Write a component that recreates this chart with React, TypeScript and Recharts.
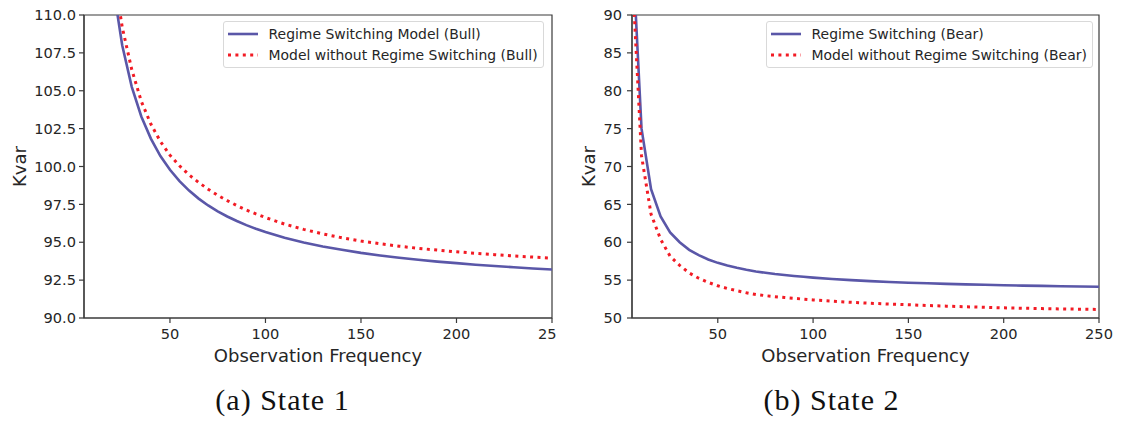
import { LineChart, Line, XAxis, YAxis, Legend, ReferenceArea } from "recharts";

// observation frequency grids (x)
const freqBull = [20, 25, 30, 35, 40, 45, 50, 55, 60, 65, 70, 75, 80, 85, 90, 95, 100,
  110, 120, 130, 140, 150, 160, 170, 180, 190, 200, 210, 220, 230, 240, 250];
const freqBear = [5, 10, 15, 20, 25, 30, 35, 40, 45, 50, 55, 60, 65, 70, 75, 80, 85, 90, 95, 100,
  110, 120, 130, 140, 150, 160, 170, 180, 190, 200, 210, 220, 230, 240, 250];

// state 1 (bull)
const kvarBullRS = [112.1, 108.0, 105.26, 103.3, 101.84, 100.69, 99.78, 99.03, 98.41, 97.88, 97.43, 97.04,
  96.7, 96.4, 96.13, 95.89, 95.67, 95.3, 94.99, 94.72, 94.5, 94.3, 94.13, 93.98, 93.84, 93.72, 93.62,
  93.52, 93.43, 93.35, 93.27, 93.2];
const kvarBullNoRS = [113.3, 109.2, 106.4, 104.3, 102.8, 101.65, 100.75, 100.05, 99.45, 98.95, 98.5, 98.1,
  97.75, 97.42, 97.13, 96.87, 96.63, 96.2, 95.85, 95.55, 95.3, 95.08, 94.9, 94.74, 94.6, 94.48, 94.37,
  94.27, 94.18, 94.09, 94.02, 93.95];

// state 2 (bear)
const kvarBearRS = [100, 75, 67, 63.4, 61.3, 60.0, 59.0, 58.3, 57.72, 57.28, 56.92, 56.62, 56.37, 56.15,
  55.97, 55.8, 55.68, 55.55, 55.44, 55.33, 55.15, 55.0, 54.87, 54.76, 54.66, 54.58, 54.51, 54.44, 54.38,
  54.33, 54.28, 54.24, 54.2, 54.16, 54.13];
const kvarBearNoRS = [96, 71.4, 63.7, 60.4, 58.15, 56.95, 55.95, 55.25, 54.7, 54.25, 53.9, 53.6, 53.33, 53.1,
  52.95, 52.82, 52.7, 52.6, 52.48, 52.38, 52.22, 52.07, 51.95, 51.84, 51.75, 51.65, 51.56, 51.48, 51.41,
  51.34, 51.29, 51.24, 51.2, 51.16, 51.13];

const xTicks = [50, 100, 150, 200, 250];
const bullTicks = [90, 92.5, 95, 97.5, 100, 102.5, 105, 107.5, 110];
const bearTicks = [50, 55, 60, 65, 70, 75, 80, 85, 90];

const bullNames = ["Regime Switching Model (Bull)", "Model without Regime Switching (Bull)"];
const bearNames = ["Regime Switching (Bear)", "Model without Regime Switching (Bear)"];

const bullData = freqBull.map((x, i) => ({ x, rs: kvarBullRS[i], noRs: kvarBullNoRS[i] }));
const bearData = freqBear.map((x, i) => ({ x, rs: kvarBearRS[i], noRs: kvarBearNoRS[i] }));

const FONT = "'DejaVu Sans', sans-serif";
const INK = "#262626";
const AXIS = "#3a3a3a";
const BLUE = "#5a57a8";
const RED = "#f21b24";
const DOTS = "3 4.4";
const ORDER = ["rs", "noRs"];

function YTitle(props: any) {
  const { viewBox, bx } = props;
  const cy = viewBox.y + viewBox.height / 2;
  return (
    <text x={bx} y={cy} transform={`rotate(-90 ${bx} ${cy})`} textAnchor="middle"
      fill={INK} fontSize={18} fontFamily={FONT}>
      Kvar
    </text>
  );
}

function KeyBox({ payload }: any) {
  const items = [...(payload || [])].sort((a: any, b: any) => ORDER.indexOf(a.dataKey) - ORDER.indexOf(b.dataKey));
  return (
    <div style={{
      border: "1px solid #d9d9d9", borderRadius: 3, background: "rgba(255,255,255,0.85)",
      padding: "2px 5px 2px 4px", fontFamily: FONT, fontSize: 13.95, color: INK, whiteSpace: "nowrap",
    }}>
      {items.map((p: any) => {
        const dotted = p.dataKey === "noRs";
        return (
          <div key={p.value} style={{ display: "flex", alignItems: "center", height: 20.6 }}>
            <svg width={30} height={10} style={{ marginRight: 10.5 }}>
              <line x1={0} x2={30} y1={5} y2={5} stroke={p.color}
                strokeWidth={dotted ? 3 : 2.6} strokeDasharray={dotted ? DOTS : undefined} />
            </svg>
            <span>{p.value}</span>
          </div>
        );
      })}
    </div>
  );
}

function Panel(props: any) {
  const { data, yDomain, yTicks, yFmt, names, width, axisW, right, legendLeft, titleX, tickMargin } = props;
  return (
    <LineChart width={width} height={380} data={data} margin={{ top: 15, right, bottom: 18, left: 0 }}>
      <XAxis type="number" dataKey="x" domain={[5, 250]} ticks={xTicks} interval={0} allowDataOverflow
        stroke={AXIS} strokeWidth={1.2} tickSize={5} tickMargin={6} height={44}
        tick={{ fill: INK, fontSize: 14.6, fontFamily: FONT }}
        label={{ value: "Observation Frequency", position: "insideBottom", offset: 0, fill: INK, fontSize: 18, fontFamily: FONT }} />
      <YAxis type="number" domain={yDomain} ticks={yTicks} interval={0} allowDataOverflow width={axisW}
        stroke={AXIS} strokeWidth={1.2} tickSize={5} tickMargin={tickMargin} tickFormatter={yFmt}
        tick={{ fill: INK, fontSize: 14.6, fontFamily: FONT }}
        label={<YTitle bx={titleX} />} />
      <ReferenceArea x1={5} x2={250} y1={yDomain[0]} y2={yDomain[1]} fillOpacity={0}
        stroke={AXIS} strokeWidth={1.2} />
      <Line type="linear" dataKey="rs" name={names[0]} stroke={BLUE} strokeWidth={2.6}
        dot={false} activeDot={false} isAnimationActive={false} />
      <Line type="linear" dataKey="noRs" name={names[1]} stroke={RED} strokeWidth={3}
        strokeDasharray={DOTS} dot={false} activeDot={false} isAnimationActive={false} />
      <Legend verticalAlign="middle" align="center" layout="horizontal"
        content={(p: any) => <KeyBox payload={p.payload} />}
        wrapperStyle={{ top: 21, left: legendLeft, width: "auto", height: "auto" }} />
    </LineChart>
  );
}

export default function App() {
  return (
    <div style={{ position: "absolute", left: 0, top: 0, width: 1122, height: 421, background: "#fff", overflow: "hidden" }}>
      {/* left panel is cropped at its right edge, as in the source figure */}
      <div style={{ position: "absolute", left: 0, top: 0, width: 556, height: 380, overflow: "hidden" }}>
        <Panel data={bullData} yDomain={[90, 110]} yTicks={bullTicks} yFmt={(v: number) => v.toFixed(1)}
          names={bullNames} width={600} axisW={84} right={48} legendLeft={223} titleX={26} tickMargin={3} />
      </div>
      <div style={{ position: "absolute", left: 556, top: 0, width: 566, height: 380 }}>
        <Panel data={bearData} yDomain={[50, 90]} yTicks={bearTicks} yFmt={(v: number) => String(v)}
          names={bearNames} width={566} axisW={76} right={23} legendLeft={210} titleX={39} tickMargin={5} />
      </div>
      <svg width={1122} height={421} style={{ position: "absolute", left: 0, top: 0, pointerEvents: "none" }}>
        <text x={282.5} y={410} textAnchor="middle" fontFamily="'Liberation Serif', serif" fontSize={30} letterSpacing={1} fill="#111">
          (a) State 1
        </text>
        <text x={831.5} y={410} textAnchor="middle" fontFamily="'Liberation Serif', serif" fontSize={30} letterSpacing={1} fill="#111">
          (b) State 2
        </text>
      </svg>
    </div>
  );
}
